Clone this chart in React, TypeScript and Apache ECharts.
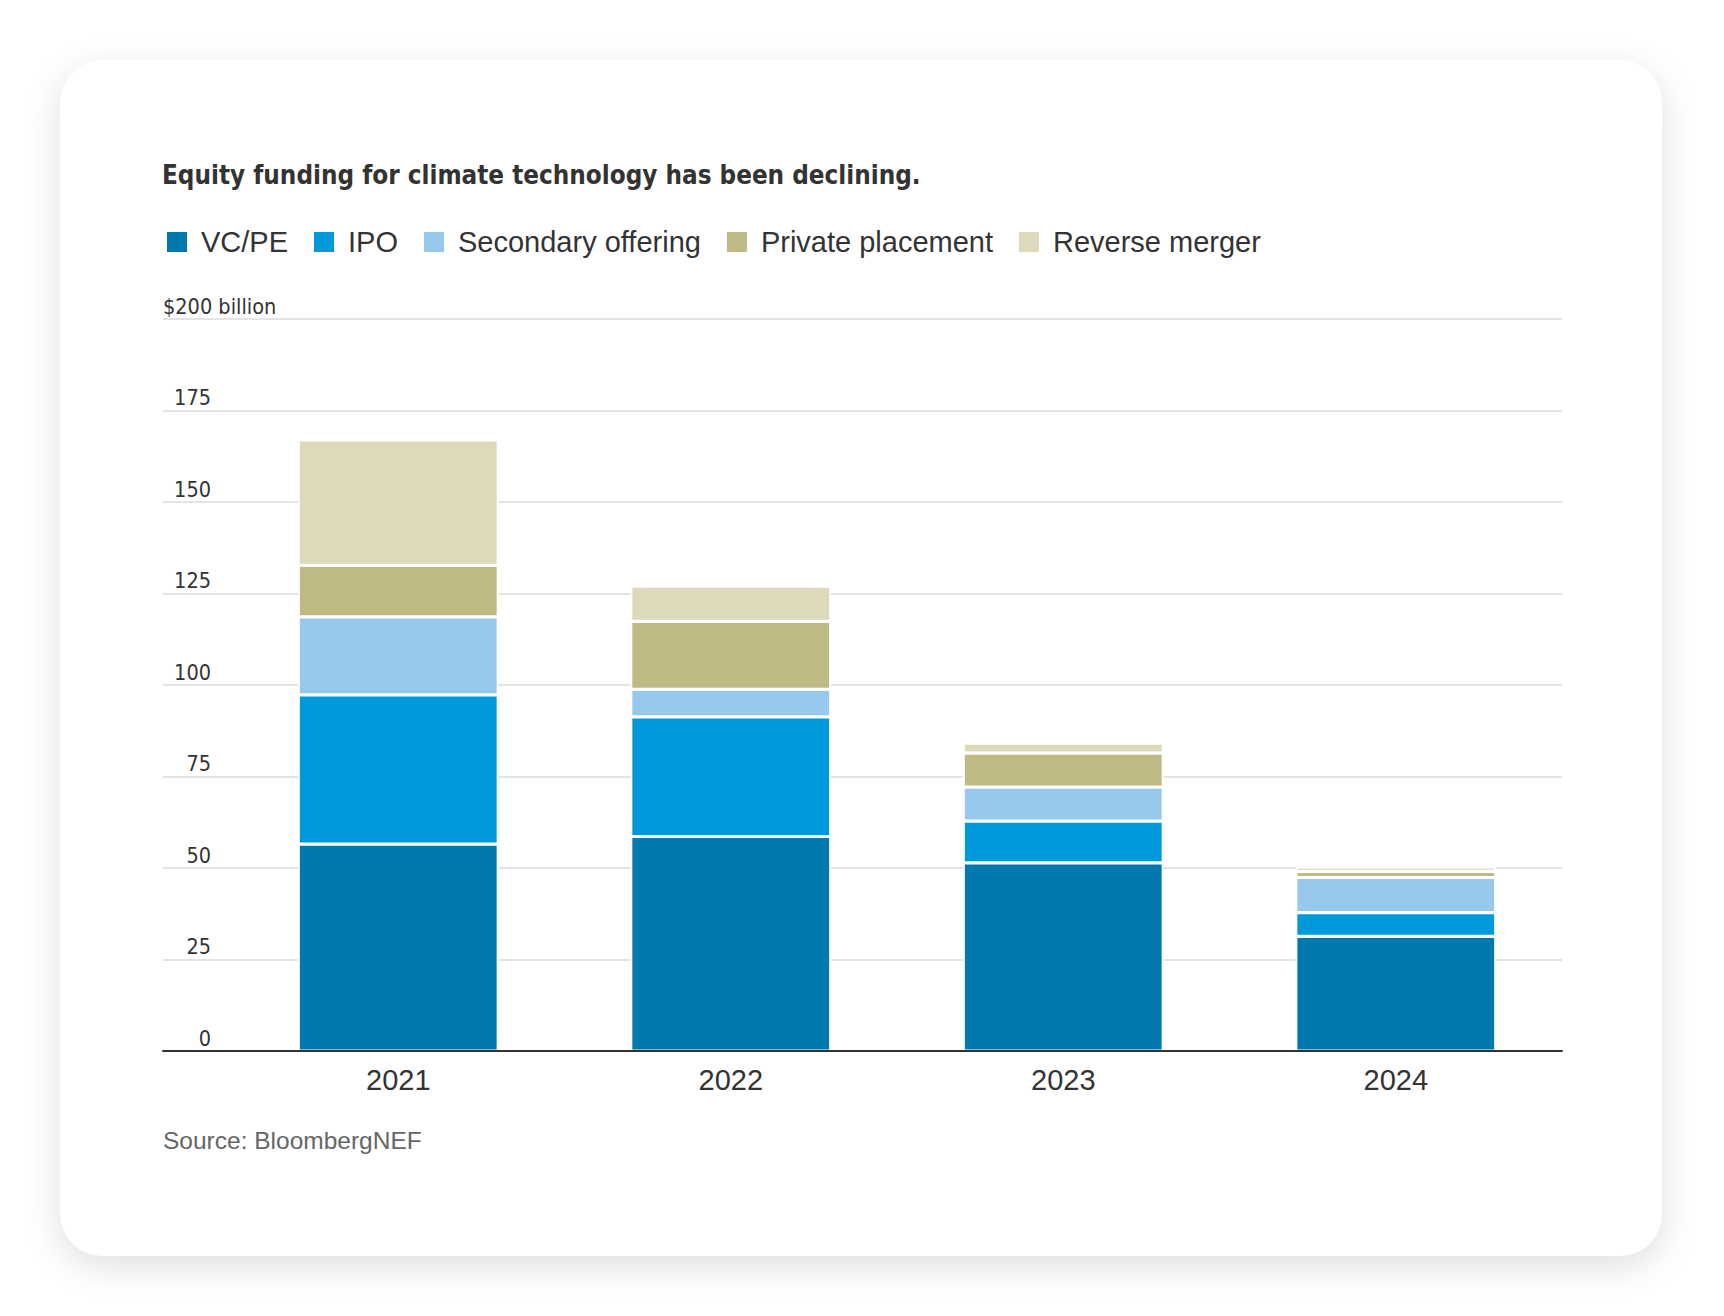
import React, { useEffect, useRef } from "react";
import * as echarts from "echarts";

const years = ["2021", "2022", "2023", "2024"];
const seriesNames = ["VC/PE", "IPO", "Secondary offering", "Private placement", "Reverse merger"];
const vcpe = [56.5, 58.6, 51.4, 31.3];
const ipo = [40.8, 32.7, 11.4, 6.5];
const secondary = [21.3, 7.5, 9.3, 9.6];
const privatePlacement = [14.1, 18.6, 9.3, 1.7];
const reverseMerger = [34.3, 9.6, 2.7, 1.2];
const colors = ["#0179ae", "#0099db", "#96c9eb", "#bfb983", "#ddd9b9"];
const yTicks = { min: 0, max: 200, interval: 25 };
const titleText = "Equity funding for climate technology has been declining.";
const sourceText = "Source: BloombergNEF";

const NARROW = '"DejaVu Sans Condensed", "DejaVu Sans", sans-serif';
const SANS = '"Liberation Sans", "Roboto", sans-serif';

export default function App() {
  const ref = useRef<HTMLDivElement>(null);
  useEffect(() => {
    document.body.style.margin = "0";
    if (!ref.current) return;
    const chart = echarts.init(ref.current, null, { renderer: "svg" });
    const values = [vcpe, ipo, secondary, privatePlacement, reverseMerger];
    const option = {
      animation: false,
      title: {
        text: titleText,
        left: 162,
        top: 161.5,
        padding: 0,
        textStyle: { fontFamily: NARROW, fontWeight: "bold", fontSize: 25.8, color: "#333" },
      },
      legend: {
        left: 165,
        top: 227.5,
        padding: 0,
        icon: "rect",
        itemWidth: 22,
        itemHeight: 22,
        itemGap: 24,
        data: seriesNames,
        textStyle: { fontFamily: SANS, fontSize: 29, color: "#333", padding: [0, 0, 0, 8] },
      },
      grid: [
        { left: 163, right: 162, top: 319, bottom: 265 },
        { left: 232, right: 162, top: 319, bottom: 265 },
      ],
      xAxis: [
        {
          gridIndex: 0,
          type: "value",
          min: 0,
          max: 1,
          z: 10,
          axisLine: { show: true, onZero: false, lineStyle: { color: "#333", width: 2 } },
          axisTick: { show: false },
          axisLabel: { show: false },
          splitLine: { show: false },
        },
        {
          gridIndex: 1,
          type: "category",
          data: years,
          axisLine: { show: false },
          axisTick: { show: false },
          axisLabel: { fontFamily: SANS, fontSize: 29, color: "#333", margin: 14 },
        },
      ],
      yAxis: [
        {
          gridIndex: 0,
          type: "value",
          min: yTicks.min,
          max: yTicks.max,
          interval: yTicks.interval,
          axisLine: { show: false },
          axisTick: { show: false },
          splitLine: { lineStyle: { color: "#e4e4e4", width: 2 } },
          axisLabel: {
            inside: true,
            margin: 0,
            verticalAlign: "bottom",
            padding: [0, 0, 2, 0],
            formatter: (v: number) => (v === yTicks.max ? `{u|$${v} billion}` : `{n|${v}}`),
            rich: {
              u: { fontFamily: NARROW, fontSize: 21.5, color: "#333" },
              n: { fontFamily: NARROW, fontSize: 21.5, color: "#333", width: 48, align: "right" },
            },
          },
        },
        {
          gridIndex: 1,
          type: "value",
          min: yTicks.min,
          max: yTicks.max,
          show: false,
          splitLine: { show: false },
        },
      ],
      series: seriesNames.map((name, i) => ({
        name,
        type: "bar",
        stack: "total",
        xAxisIndex: 1,
        yAxisIndex: 1,
        barWidth: 200,
        data: values[i],
        itemStyle: { color: colors[i], borderColor: "#fff", borderWidth: 1.6 },
        emphasis: { disabled: true },
      })),
      color: colors,
      graphic: [
        {
          type: "text",
          left: 163,
          top: 1128,
          style: { text: sourceText, fontFamily: SANS, fontSize: 24.5, fill: "#666" },
        },
      ],
    };
    chart.setOption(option as any);
    return () => chart.dispose();
  }, []);
  return (
    <div style={{ position: "absolute", left: 0, top: 0, width: 1724, height: 1316, background: "#fff" }}>
      <div
        style={{
          position: "absolute",
          left: 60,
          top: 60,
          width: 1602,
          height: 1196,
          borderRadius: 42,
          background: "#fff",
          boxShadow: "0 10px 36px rgba(0,0,0,0.13)",
        }}
      />
      <div ref={ref} style={{ position: "absolute", left: 0, top: 0, width: 1724, height: 1316 }} />
    </div>
  );
}
